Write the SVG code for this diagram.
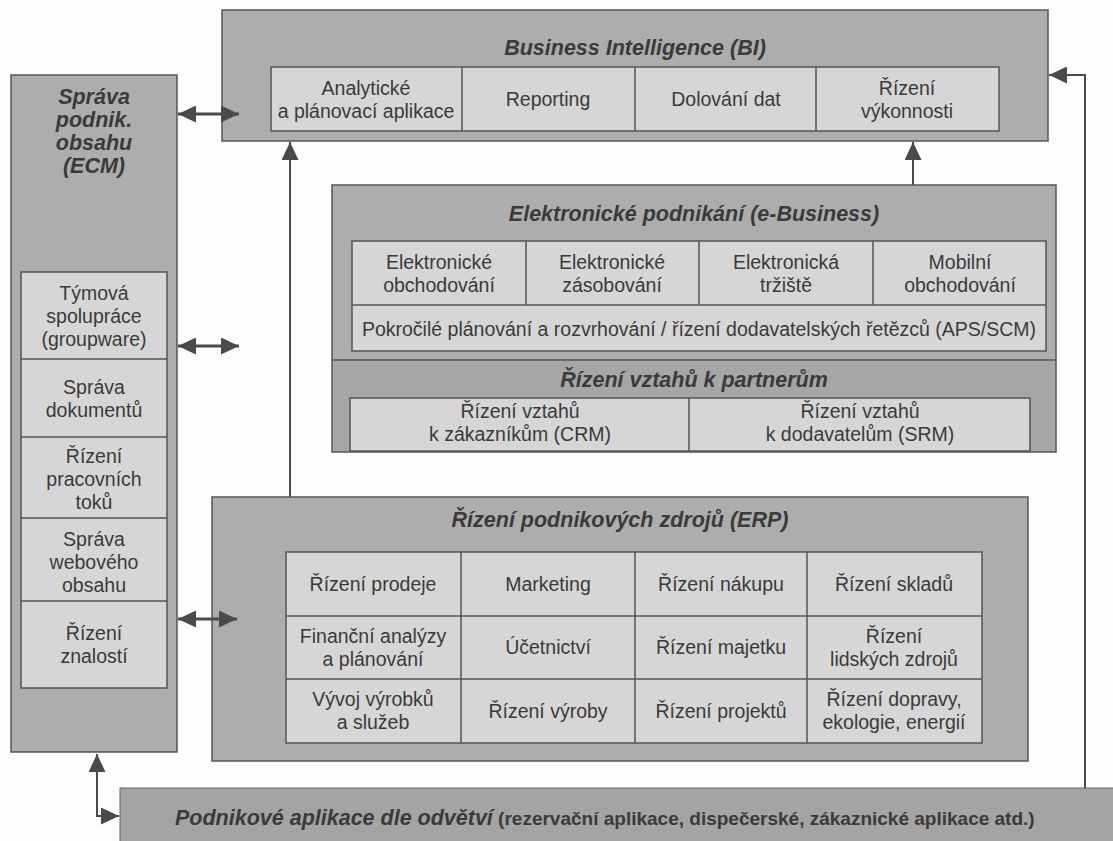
<svg xmlns="http://www.w3.org/2000/svg" width="1113" height="841" viewBox="0 0 1113 841">
<defs>
<style>
.outer{fill:#adadad;stroke:#555;stroke-width:1.5}
.part{fill:#a6a6a6;stroke:none}
.inner{fill:#d6d6d6;stroke:#555;stroke-width:1.5}
.div{stroke:#555;stroke-width:1.5;fill:none}
.t{font-family:"Liberation Sans",Arial,sans-serif;font-size:19.5px;fill:#3a3a3a;text-anchor:middle}
.h{font-family:"Liberation Sans",Arial,sans-serif;font-size:21.5px;font-weight:bold;font-style:italic;fill:#3a3a3a;text-anchor:middle}
.c{fill:none;stroke:#4a4a4a;stroke-width:2}
.c3{fill:none;stroke:#4a4a4a;stroke-width:3}
</style>
<marker id="ah" markerUnits="userSpaceOnUse" markerWidth="19" markerHeight="17" refX="18" refY="8.5" orient="auto-start-reverse">
<path d="M0,0 L18,8.5 L0,17 z" fill="#4a4a4a"/>
</marker>
</defs>
<rect x="0" y="0" width="1113" height="841" fill="#fdfdfb"/>

<g id="bi">
<rect class="outer" x="222" y="10" width="826" height="131"/>
<text class="h" x="635" y="55">Business Intelligence (BI)</text>
<rect class="inner" x="271" y="67" width="728" height="64"/>
<path class="div" d="M462,67V131M635,67V131M816,67V131"/>
<text class="t" x="366" y="95"><tspan x="366">Analytické</tspan><tspan x="366" dy="23">a plánovací aplikace</tspan></text>
<text class="t" x="548" y="106">Reporting</text>
<text class="t" x="726" y="106">Dolování dat</text>
<text class="t" x="907" y="95"><tspan x="907">Řízení</tspan><tspan x="907" dy="23">výkonnosti</tspan></text>
</g>

<g id="ecm">
<rect class="outer" x="11" y="75" width="166" height="677"/>
<text class="h" x="94" y="104"><tspan x="94">Správa</tspan><tspan x="94" dy="23">podnik.</tspan><tspan x="94" dy="23">obsahu</tspan><tspan x="94" dy="23">(ECM)</tspan></text>
<rect class="inner" x="21" y="272" width="146" height="416"/>
<path class="div" d="M21,359H167M21,437H167M21,518H167M21,601H167"/>
<text class="t" x="94" y="300"><tspan x="94">Týmová</tspan><tspan x="94" dy="23">spolupráce</tspan><tspan x="94" dy="23">(groupware)</tspan></text>
<text class="t" x="94" y="394"><tspan x="94">Správa</tspan><tspan x="94" dy="23">dokumentů</tspan></text>
<text class="t" x="94" y="463"><tspan x="94">Řízení</tspan><tspan x="94" dy="23">pracovních</tspan><tspan x="94" dy="23">toků</tspan></text>
<text class="t" x="94" y="546"><tspan x="94">Správa</tspan><tspan x="94" dy="23">webového</tspan><tspan x="94" dy="23">obsahu</tspan></text>
<text class="t" x="94" y="640"><tspan x="94">Řízení</tspan><tspan x="94" dy="23">znalostí</tspan></text>
</g>

<g id="ebusiness">
<rect class="outer" x="332" y="185" width="724" height="267"/>
<rect class="part" x="333" y="361" width="722" height="90"/>
<path class="div" d="M332,360H1056"/>
<text class="h" x="694" y="221">Elektronické podnikání (e-Business)</text>
<rect class="inner" x="352" y="241" width="694" height="110"/>
<path class="div" d="M352,305H1046M526,241V305M699,241V305M873,241V305"/>
<text class="t" x="439" y="269"><tspan x="439">Elektronické</tspan><tspan x="439" dy="23">obchodování</tspan></text>
<text class="t" x="612" y="269"><tspan x="612">Elektronické</tspan><tspan x="612" dy="23">zásobování</tspan></text>
<text class="t" x="786" y="269"><tspan x="786">Elektronická</tspan><tspan x="786" dy="23">tržiště</tspan></text>
<text class="t" x="960" y="269"><tspan x="960">Mobilní</tspan><tspan x="960" dy="23">obchodování</tspan></text>
<text class="t" x="699" y="336">Pokročilé plánování a rozvrhování / řízení dodavatelských řetězců (APS/SCM)</text>
<text class="h" x="694" y="387">Řízení vztahů k partnerům</text>
<rect class="inner" x="350" y="398" width="680" height="53"/>
<path class="div" d="M689,398V451"/>
<text class="t" x="520" y="418"><tspan x="520">Řízení vztahů</tspan><tspan x="520" dy="23">k zákazníkům (CRM)</tspan></text>
<text class="t" x="860" y="418"><tspan x="860">Řízení vztahů</tspan><tspan x="860" dy="23">k dodavatelům (SRM)</tspan></text>
</g>

<g id="erp">
<rect class="outer" x="212" y="497" width="816" height="264"/>
<text class="h" x="620" y="527">Řízení podnikových zdrojů (ERP)</text>
<rect class="inner" x="286" y="552" width="696" height="191"/>
<path class="div" d="M461,552V743M635,552V743M807,552V743M286,616H982M286,679H982"/>
<text class="t" x="373" y="591">Řízení prodeje</text>
<text class="t" x="548" y="591">Marketing</text>
<text class="t" x="721" y="591">Řízení nákupu</text>
<text class="t" x="894" y="591">Řízení skladů</text>
<text class="t" x="373" y="643"><tspan x="373">Finanční analýzy</tspan><tspan x="373" dy="23">a plánování</tspan></text>
<text class="t" x="548" y="654">Účetnictví</text>
<text class="t" x="721" y="654">Řízení majetku</text>
<text class="t" x="894" y="643"><tspan x="894">Řízení</tspan><tspan x="894" dy="23">lidských zdrojů</tspan></text>
<text class="t" x="373" y="706"><tspan x="373">Vývoj výrobků</tspan><tspan x="373" dy="23">a služeb</tspan></text>
<text class="t" x="548" y="718">Řízení výroby</text>
<text class="t" x="721" y="718">Řízení projektů</text>
<text class="t" x="894" y="706"><tspan x="894">Řízení dopravy,</tspan><tspan x="894" dy="23">ekologie, energií</tspan></text>
</g>

<g id="industry">
<rect x="120" y="788" width="1000" height="60" fill="#a4a4a4" stroke="#666" stroke-width="1"/>
<text x="175" y="825" style="font-family:'Liberation Sans',Arial,sans-serif;font-weight:bold;fill:#3a3a3a"><tspan style="font-size:21.5px;font-style:italic">Podnikové aplikace dle odvětví</tspan><tspan style="font-size:19px"> (rezervační aplikace, dispečerské, zákaznické aplikace atd.)</tspan></text>
</g>

<g id="connectors">
<line class="c3" x1="178" y1="114" x2="239" y2="114" marker-start="url(#ah)" marker-end="url(#ah)"/>
<line class="c3" x1="178" y1="346" x2="239" y2="346" marker-start="url(#ah)" marker-end="url(#ah)"/>
<line class="c3" x1="178" y1="619" x2="237" y2="619" marker-start="url(#ah)" marker-end="url(#ah)"/>
<line class="c" x1="290" y1="497" x2="290" y2="142" marker-end="url(#ah)"/>
<line class="c" x1="913" y1="185" x2="913" y2="142" marker-end="url(#ah)"/>
<polyline class="c" points="1085,788 1085,75 1049,75" marker-end="url(#ah)"/>
<polyline class="c" points="97,754 97,816 119,816" marker-start="url(#ah)" marker-end="url(#ah)"/>
</g>
</svg>
